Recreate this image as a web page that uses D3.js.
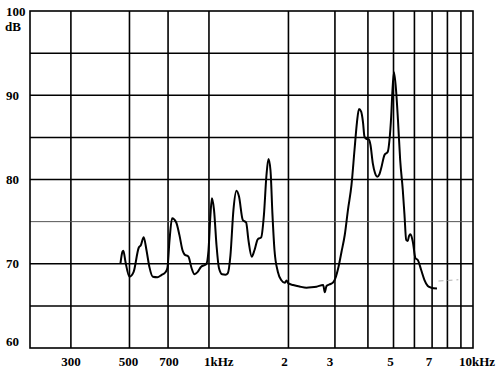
<!DOCTYPE html>
<html><head><meta charset="utf-8">
<script src="https://cdn.jsdelivr.net/npm/d3@7"></script>
<style>
html,body{margin:0;padding:0;background:#fff;}
svg{display:block;}
text{font-family:"Liberation Serif","Times New Roman",serif;font-weight:bold;font-size:13px;fill:#000;}
</style></head>
<body>
<script>
// ---- data ----
const freqHz = [462,470,474,483,500,518,542,552,566,580,595,613,638,661,684,696,709,725,751,773,794,808,836,859,881,905,934,976,996,1013,1026,1045,1068,1091,1122,1155,1178,1206,1238,1271,1299,1343,1383,1411,1452,1487,1530,1577,1615,1651,1680,1710,1740,1771,1823,1877,1937,1966,2000,2084,2202,2341,2445,2554,2708,2746,2787,2860,2954,3014,3086,3176,3268,3361,3466,3558,3636,3700,3771,3831,3882,3950,4030,4090,4174,4255,4336,4424,4490,4621,4756,4827,4899,4955,5020,5117,5198,5299,5421,5502,5585,5662,5722,5798,5916,6056,6178,6364,6550,6742,6945,7304];
const levelDb = [70.0,71.4,71.55,70.2,68.46,69.0,71.9,72.2,73.14,71.6,69.6,68.46,68.4,68.66,68.99,69.5,72.8,75.4,74.92,73.4,71.6,71.1,70.84,69.5,68.75,69.0,69.65,69.93,71.6,75.8,77.77,76.4,72.2,69.5,68.75,68.7,68.87,71.0,76.4,78.67,78.0,75.2,74.9,72.8,70.84,71.6,72.9,73.14,75.8,80.5,82.43,81.1,75.8,71.6,69.06,68.07,67.75,68.0,67.66,67.48,67.3,67.16,67.2,67.28,67.48,66.61,67.36,67.54,67.8,68.31,69.46,71.4,73.41,76.4,79.35,83.5,86.82,88.37,88.05,86.82,85.08,84.8,84.77,84.1,81.92,80.77,80.33,80.65,81.33,82.91,83.3,84.69,87.45,90.62,92.72,90.42,87.06,82.31,78.75,75.8,72.82,72.7,73.29,73.5,72.62,70.65,70.45,69.26,68.07,67.36,67.16,67.06];
const faintFreq = [7400, 8800];
const faintDb = [67.95, 68.1];
const gridFreq = [300,500,700,1000,2000,3000,4000,5000,6000,7000,8000,9000];
const gridDb = [65,70,75,80,85,90,95];
const xTickValues = [300,500,700,1000,2000,3000,5000,7000,10000];
const xTickLabels = ["300","500","700","1kHz","2","3","5","7","10kHz"];
const yTickValues = [100,90,80,70,60];
const yTickLabels = ["100","90","80","70","60"];
const yUnit = "dB";

// ---- layout ----
const W = 497, H = 375;
const L = 30, R = 473, T = 11, B = 348;
const x = d3.scaleLog().domain([210, 10000]).range([L, R]);
const y = d3.scaleLinear().domain([60, 100]).range([B, T]);

const svg = d3.select("body").append("svg").attr("width", W).attr("height", H);
svg.append("rect").attr("width", W).attr("height", H).attr("fill", "#fff");

// grid
const g = svg.append("g");
g.selectAll("line.v").data(gridFreq).join("line")
  .attr("x1", d => x(d)).attr("x2", d => x(d)).attr("y1", T).attr("y2", B)
  .attr("stroke", "#000").attr("stroke-width", 1.6);
g.selectAll("line.h").data(gridDb).join("line")
  .attr("x1", L).attr("x2", R).attr("y1", d => y(d)).attr("y2", d => y(d))
  .attr("stroke", d => d === 75 ? "#555" : "#000").attr("stroke-width", d => d === 75 ? 1.0 : 1.5);
g.append("rect").attr("x", L).attr("y", T).attr("width", R - L).attr("height", B - T)
  .attr("fill", "none").attr("stroke", "#000").attr("stroke-width", 1.6);

// faint dashed segment
const faint = faintFreq.map((f, i) => [f, faintDb[i]]);
svg.append("path").datum(faint)
  .attr("d", d3.line().x(d => x(d[0])).y(d => y(d[1])))
  .attr("fill", "none").attr("stroke", "#b0b0b0").attr("stroke-width", 1).attr("stroke-dasharray", "5,4");

// curve
const pts = freqHz.map((f, i) => [f, levelDb[i]]);
svg.append("path").datum(pts)
  .attr("d", d3.line().x(d => x(d[0])).y(d => y(d[1])).curve(d3.curveMonotoneX))
  .attr("fill", "none").attr("stroke", "#000").attr("stroke-width", 2).attr("stroke-linejoin", "round");

// y labels
svg.selectAll("text.y").data(yTickValues).join("text")
  .attr("x", 6).attr("y", d => y(d) + (d === 60 ? -7 : 0))
  .attr("dominant-baseline", "central")
  .text((d, i) => yTickLabels[i]);
svg.append("text").attr("x", 5).attr("y", 26).attr("dominant-baseline", "central").text(yUnit);

// x labels
const xOff = {300: 0, 500: -1, 700: 1, 1000: -5, 2000: -4, 3000: -5, 5000: -3, 7000: -3, 10000: -14};
svg.selectAll("text.x").data(xTickValues).join("text")
  .attr("x", d => x(d) + xOff[d])
  .attr("y", 361)
  .attr("dominant-baseline", "central")
  .attr("text-anchor", d => (d === 1000 || d === 10000) ? "start" : "middle")
  .text((d, i) => xTickLabels[i]);
</script>
</body></html>
